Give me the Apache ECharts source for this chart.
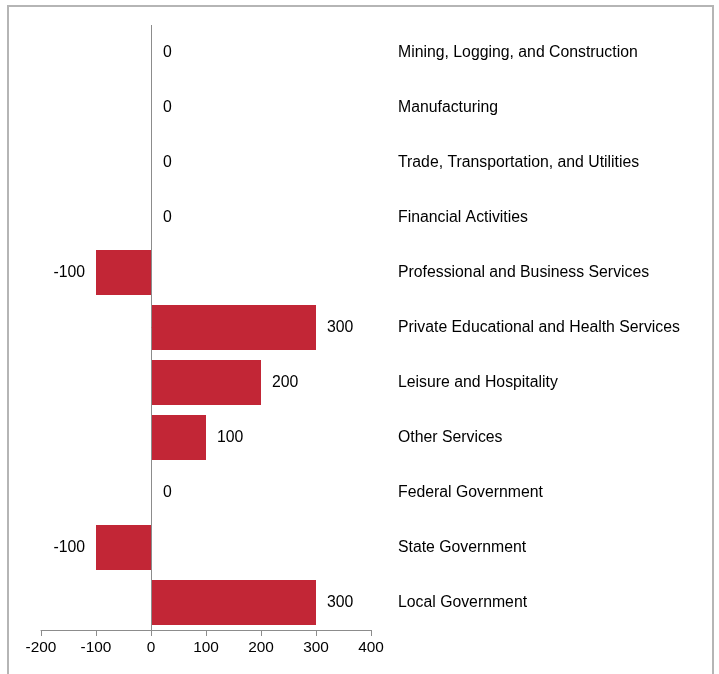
<!DOCTYPE html>
<html>
<head>
<meta charset="utf-8">
<script src="https://cdn.jsdelivr.net/npm/echarts@6/dist/echarts.min.js"></script>
<style>
html,body{margin:0;padding:0;background:#fff;}
#wrap{position:relative;width:719px;height:674px;}
#chart{position:absolute;left:0;top:0;width:719px;height:674px;}
#frame{position:absolute;left:7px;top:5px;width:703px;height:680px;border:2px solid #b5b5b5;pointer-events:none;}
</style>
</head>
<body>
<div id="wrap"><div id="chart"></div><div id="frame"></div></div>
<script>
const categories = [
  "Mining, Logging, and Construction",
  "Manufacturing",
  "Trade, Transportation, and Utilities",
  "Financial Activities",
  "Professional and Business Services",
  "Private Educational and Health Services",
  "Leisure and Hospitality",
  "Other Services",
  "Federal Government",
  "State Government",
  "Local Government"
];
const values = [0, 0, 0, 0, -100, 300, 200, 100, 0, -100, 300];
const xTicks = [-200, 400, 100]; // min, max, interval

const chart = echarts.init(document.getElementById('chart'));
const font = '"Liberation Sans", Arial, sans-serif';
chart.setOption({
  animation: false,
  grid: {left: 41, right: 348, top: 25, bottom: 44, containLabel: false},
  xAxis: {
    type: 'value', min: xTicks[0], max: xTicks[1], interval: xTicks[2],
    axisLine: {show: true, onZero: false, lineStyle: {color: '#8c8c8c', width: 1}},
    axisTick: {show: true, length: 6, lineStyle: {color: '#8c8c8c'}},
    axisLabel: {color: '#000', fontSize: 15.4, fontFamily: font, margin: 10},
    splitLine: {show: false}
  },
  yAxis: {
    type: 'category', data: categories, inverse: true, position: 'right',
    axisLine: {show: false}, axisTick: {show: false},
    axisLabel: {color: '#000', fontSize: 15.8, fontFamily: font, margin: 27, align: 'left'}
  },
  series: [{
    type: 'bar', barWidth: 45,
    itemStyle: {color: '#C22636'},
    data: values.map(v => ({
      value: v,
      label: {show: true, position: v < 0 ? 'left' : 'right', distance: v === 0 ? 12 : 11,
              color: '#000', fontSize: 15.8, fontFamily: font}
    })),
    markLine: {
      silent: true, symbol: 'none', label: {show: false},
      lineStyle: {color: '#8c8c8c', width: 1, type: 'solid'},
      data: [{xAxis: 0}]
    }
  }]
});
</script>
</body>
</html>
